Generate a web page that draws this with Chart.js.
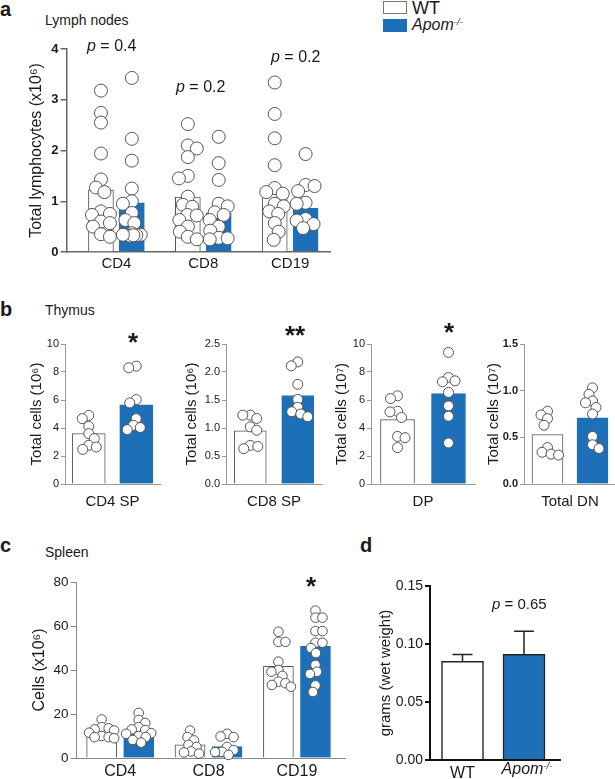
<!DOCTYPE html>
<html>
<head>
<meta charset="utf-8">
<script src="https://cdn.jsdelivr.net/npm/chart.js@4.4.0/dist/chart.umd.min.js"></script>
<style>
  body { margin: 0; background: #fff; font-family: "Liberation Sans", Arial, Helvetica, sans-serif; color: #1a1a1a; }
  #fig { position: relative; width: 615px; height: 779px; overflow: hidden; }
  canvas { position: absolute; }
  .t { position: absolute; line-height: 1; white-space: nowrap; }
  .t sup { font-size: 0.6em; vertical-align: 0; position: relative; top: -0.6em; line-height: 0; }
  .box { position: absolute; width: 22px; height: 11px; border: 1px solid #777; }
</style>
</head>
<body>
<div id="fig"></div>
<script>
// ---- a: lymph nodes, total lymphocytes (x10^6)
const lnCats = ['CD4', 'CD8', 'CD19'];
const lnMeanWT = [1.22, 1.08, 1.24];
const lnMeanKO = [0.97, 0.77, 0.86];
const lnWT = [
  [3.18, 2.74, 2.55, 1.94, 1.43, 1.27, 1.18, 0.8, 0.75, 0.73, 0.6, 0.57, 0.5, 0.35, 0.3],
  [2.52, 2.1, 2.04, 1.87, 1.5, 1.45, 1.09, 0.93, 0.89, 0.73, 0.72, 0.63, 0.5, 0.4, 0.3, 0.25],
  [3.34, 2.72, 2.24, 1.71, 1.26, 1.18, 1.15, 0.95, 0.9, 0.8, 0.75, 0.57, 0.4, 0.24]
];
const lnKO = [
  [3.43, 2.23, 1.8, 1.25, 1.0, 0.95, 0.77, 0.63, 0.57, 0.37, 0.34, 0.33, 0.33, 0.32, 0.33, 0.34],
  [2.27, 1.75, 1.42, 0.95, 0.9, 0.78, 0.73, 0.63, 0.5, 0.42, 0.28, 0.27, 0.25],
  [1.93, 1.32, 1.3, 1.2, 0.97, 0.95, 0.65, 0.62, 0.55, 0.47]
];

// ---- b: thymus
const cd4spWT = [4.9, 4.67, 4.12, 3.6, 3.24, 2.76, 2.64, 2.47];
const cd4spKO = [8.42, 8.3, 6.03, 5.79, 4.67, 4.19, 4.03, 3.88];
const cd8spWT = [1.23, 1.23, 1.17, 1.02, 0.96, 0.69, 0.67, 0.63];
const cd8spKO = [2.18, 2.11, 1.78, 1.51, 1.37, 1.29, 1.25, 1.2];
const dpWT = [6.3, 6.1, 5.2, 5.15, 4.75, 3.4, 3.31, 2.6];
const dpKO = [9.4, 7.61, 7.37, 7.3, 6.54, 5.58, 4.84, 2.93];
const dnWT = [0.78, 0.74, 0.7, 0.63, 0.39, 0.34, 0.32, 0.31];
const dnKO = [1.03, 0.96, 0.89, 0.87, 0.82, 0.75, 0.51, 0.42, 0.38];
const thyMeanWT = [3.6, 0.95, 4.6, 0.53];
const thyMeanKO = [5.65, 1.58, 6.45, 0.71];

// ---- c: spleen, cells (x10^6)
const spCats = ['CD4', 'CD8', 'CD19'];
const spMeanWT = [12.5, 6.0, 41.7];
const spMeanKO = [12.8, 5.2, 50.8];
const spWT = [
  [17.5, 14, 13.5, 13, 12.5, 11.5, 10, 9.5, 9.5, 9],
  [12.5, 9.5, 8, 6, 5, 3, 2.5, 2],
  [57.4, 52.8, 52.8, 43.8, 40, 39.2, 37.3, 34.7, 34, 33.2, 32.4]
];
const spKO = [
  [20.5, 17.3, 15.9, 14, 13, 12.7, 11.3, 11, 10, 9.5, 8.2, 7],
  [11, 9.8, 9.5, 5, 3.6, 2.8, 2.7, 1.4],
  [67, 63.8, 63.8, 57.7, 57.7, 52.4, 52.4, 50, 47.7, 42.3, 39.2, 38.2, 33, 30]
];

// ---- d: grams (wet weight), mean and error
const wCats = ['WT', ''];
const wMean = [0.085, 0.091];
const wErr = [0.006, 0.02];

const BLUE = '#1d70b8';
const FONT = '"Liberation Sans", Arial, Helvetica, sans-serif';
const fig = document.getElementById('fig');

function txt(html, x, base, size, st) {
  const d = document.createElement('div');
  d.className = 't';
  d.innerHTML = html;
  d.style.fontSize = size + 'px';
  d.style.top = (base - 0.8465 * size) + 'px';
  d.style.left = x + 'px';
  if (st && st.center) d.style.transform = 'translateX(-50%)';
  if (st && st.bold) d.style.fontWeight = 'bold';
  fig.appendChild(d);
}

// simple beeswarm: horizontal offsets (px) so circles don't pile up too much
function swarm(vals, ppu, r, lim) {
  const placed = [];
  const off = new Array(vals.length).fill(0);
  const idx = vals.map((v, i) => i).sort((a, b) => vals[b] - vals[a]);
  const need = 2 * r * 0.72;
  idx.forEach((i, n) => {
    const y = vals[i] * ppu;
    const side = n % 2 ? -1 : 1;
    let best = 0, bestD = -1, done = false;
    for (let k = 0; k <= lim && !done; k += 0.5) {
      for (const s of [side, -side]) {
        const x = s * k;
        let d = Infinity;
        placed.forEach(p => { d = Math.min(d, Math.hypot(p[0] - x, p[1] - y)); });
        if (d >= need) { best = x; done = true; break; }
        if (d > bestD) { bestD = d; best = x; }
      }
    }
    placed.push([best, y]);
    off[i] = best;
  });
  return off;
}

function panel(o) {
  const padTop = 12, padRight = 6;
  const yW = o.ax - (o.titleX - 0.6 * o.titleSize);
  const left = o.ax - yW, top = o.top - padTop;
  const cv = document.createElement('canvas');
  cv.width = Math.round(o.right + padRight - left);
  cv.height = Math.round(o.bottom + o.xH - top);
  cv.style.left = left + 'px';
  cv.style.top = top + 'px';
  fig.appendChild(cv);

  const ppu = (o.bottom - o.top) / o.ymax;
  const off = o.barOff / o.dx;
  const tickPos = o.tickPos || o.cats.map((c, i) => i);
  const pts = (groups, sgn) => {
    const out = [];
    groups.forEach((vals, i) => {
      const dxs = swarm(vals, ppu, o.r, o.barW / 2 - o.r * 0.5);
      vals.forEach((v, k) => out.push({ x: i + sgn * off + dxs[k] / o.dx, y: v }));
    });
    return out;
  };
  const dot = data => ({
    type: 'scatter', order: 0, data, clip: false,
    pointRadius: o.r, pointBackgroundColor: '#fff', pointBorderColor: '#555', pointBorderWidth: 1
  });
  const bar = (means, sgn, fill, edge) => ({
    type: 'bar', order: 2, grouped: false, barThickness: o.barW,
    data: means.map((v, i) => ({ x: i + sgn * off, y: v })),
    backgroundColor: fill, borderColor: edge, borderWidth: o.edgeW, borderSkipped: 'start'
  });

  new Chart(cv, {
    type: 'bar',
    data: {
      datasets: [
        dot(pts(o.wt, -1)), dot(pts(o.ko, 1)),
        bar(o.meanWT, -1, '#fff', o.edge), bar(o.meanKO, 1, BLUE, o.koEdge)
      ]
    },
    options: {
      responsive: false, animation: false, devicePixelRatio: 1,
      layout: { padding: { top: padTop, right: padRight, left: 0, bottom: 0 } },
      plugins: { legend: { display: false }, tooltip: { enabled: false } },
      scales: {
        x: {
          type: 'linear', offset: false,
          min: (o.ax - o.cx0) / o.dx, max: (o.right - o.cx0) / o.dx,
          afterFit: s => { s.height = o.xH; },
          afterBuildTicks: s => { s.ticks = tickPos.map(v => ({ value: v })); },
          grid: { display: false, drawTicks: false },
          border: { color: o.axis, width: o.axisW },
          ticks: {
            padding: o.xPad, color: '#1a1a1a', autoSkip: false, maxRotation: 0,
            font: { family: FONT, size: o.xFont },
            callback: (v, i) => o.cats[i]
          }
        },
        y: {
          min: 0, max: o.ymax,
          afterFit: s => { s.width = yW; },
          afterBuildTicks: s => {
            const t = [];
            for (let k = 0; k <= Math.round(o.ymax / o.ystep); k++) t.push({ value: +(k * o.ystep).toFixed(4) });
            s.ticks = t;
          },
          grid: { drawOnChartArea: false, drawTicks: true, tickLength: o.tickLen, color: o.axis, lineWidth: o.axisW },
          border: { color: o.axis, width: o.axisW },
          ticks: {
            padding: 2, color: '#1a1a1a',
            font: { family: FONT, size: o.yFont, weight: o.yBold ? 'bold' : 'normal' },
            callback: v => v.toFixed(o.dec)
          },
          title: {
            display: true, text: o.title, padding: 0, color: '#1a1a1a',
            font: { family: FONT, size: o.titleSize }
          }
        }
      }
    },
    plugins: o.plugins || []
  });
}

const base = {
  r: 5, edge: '#555', koEdge: BLUE, edgeW: 1, axis: '#999', axisW: 1, tickLen: 4,
  xH: 28, xPad: 8, xFont: 15, yFont: 11, yBold: false, titleSize: 15, dx: 50
};

// a
panel(Object.assign({}, base, {
  ax: 67, right: 332, top: 49, bottom: 252, ymax: 4, ystep: 1, dec: 0,
  cats: lnCats, cx0: 117, dx: 87.25, barOff: 15.5, barW: 25, r: 6.5,
  wt: lnWT, ko: lnKO, meanWT: lnMeanWT, meanKO: lnMeanKO,
  axis: '#666', axisW: 1.5, tickLen: 6, yFont: 13, yBold: true,
  titleX: 37, titleSize: 16, title: 'Total lymphocytes (x10\u2076)', xFont: 15, xPad: 3
}));

// b
const thy = [
  { ax: 65, right: 160, cx0: 112.5, barOff: 23.75, barW: 33, ymax: 10, ystep: 2, dec: 0, titleX: 37, cat: 'CD4 SP', exp: '\u2076', wt: cd4spWT, ko: cd4spKO },
  { ax: 226, right: 322, cx0: 274, barOff: 23.75, barW: 32, ymax: 2.5, ystep: 0.5, dec: 1, titleX: 192, cat: 'CD8 SP', exp: '\u2076', wt: cd8spWT, ko: cd8spKO },
  { ax: 371, right: 475, cx0: 423, barOff: 25.5, barW: 34, ymax: 10, ystep: 2, dec: 0, titleX: 342, cat: 'DP', exp: '\u2077', wt: dpWT, ko: dpKO },
  { ax: 524, right: 614, cx0: 570, barOff: 22.5, barW: 31, ymax: 1.5, ystep: 0.5, dec: 1, titleX: 494, cat: 'Total DN', exp: '\u2077', wt: dnWT, ko: dnKO, yBold: true }
];
thy.forEach((t, i) => {
  panel(Object.assign({}, base, t, {
    top: 344, bottom: 483.5, cats: [t.cat], wt: [t.wt], ko: [t.ko],
    meanWT: [thyMeanWT[i]], meanKO: [thyMeanKO[i]],
    title: 'Total cells (10' + t.exp + ')', xPad: 9
  }));
});

// c
panel(Object.assign({}, base, {
  ax: 77, right: 345, top: 582, bottom: 758, ymax: 80, ystep: 20, dec: 0,
  cats: spCats, cx0: 120.5, dx: 88.25, barOff: 18.5, barW: 30, r: 4.8,
  wt: spWT, ko: spKO, meanWT: spMeanWT, meanKO: spMeanKO,
  axis: '#888', tickLen: 6, yFont: 13.5, titleX: 40, titleSize: 16,
  title: 'Cells (x10\u2076)', xFont: 16, xPad: 4
}));

// d, with error bars
const errBars = {
  id: 'errBars',
  afterDatasetsDraw(chart) {
    const ctx = chart.ctx, ys = chart.scales.y;
    ctx.save();
    ctx.strokeStyle = '#222';
    ctx.lineWidth = 1.5;
    [2, 3].forEach((di, k) => {
      const el = chart.getDatasetMeta(di).data[0];
      const y0 = ys.getPixelForValue(wMean[k]);
      const y1 = ys.getPixelForValue(wMean[k] + wErr[k]);
      ctx.beginPath();
      ctx.moveTo(el.x, y0);
      ctx.lineTo(el.x, y1);
      ctx.moveTo(el.x - 10, y1);
      ctx.lineTo(el.x + 10, y1);
      ctx.stroke();
    });
    ctx.restore();
  }
};
panel(Object.assign({}, base, {
  ax: 430, right: 560, top: 586, bottom: 760, ymax: 0.15, ystep: 0.05, dec: 2,
  cats: wCats, tickPos: [-0.5, 0.5], cx0: 493.25, dx: 61.5, barOff: 30.75, barW: 42,
  wt: [[]], ko: [[]], meanWT: [wMean[0]], meanKO: [wMean[1]],
  edge: '#222', koEdge: '#222', edgeW: 1.5, axis: '#111', axisW: 2, tickLen: 5,
  yFont: 14, titleX: 386, titleSize: 15, title: 'grams (wet weight)', xFont: 16, xPad: 4,
  plugins: [errBars]
}));

// panel letters, titles, legend, annotations
txt('a', 0, 16, 20, { bold: true });
txt('Lymph nodes', 45, 25, 14);
txt('b', 0, 316, 20, { bold: true });
txt('Thymus', 45, 315, 14);
txt('c', 0, 552, 20, { bold: true });
txt('Spleen', 45, 557, 14);
txt('d', 360, 552, 20, { bold: true });

const b1 = document.createElement('div');
b1.className = 'box'; b1.style.left = '383px'; b1.style.top = '1px'; b1.style.background = '#fff';
fig.appendChild(b1);
const b2 = document.createElement('div');
b2.className = 'box'; b2.style.left = '383px'; b2.style.top = '19px'; b2.style.background = BLUE; b2.style.borderColor = BLUE;
fig.appendChild(b2);
txt('WT', 412, 14, 18);
txt('<i>Apom</i><sup><i>-/-</i></sup>', 412, 31, 16);

txt('<i>p</i> = 0.4', 87, 52, 16);
txt('<i>p</i> = 0.2', 176, 93, 16);
txt('<i>p</i> = 0.2', 271, 63, 16);

txt('*', 133, 351, 26, { bold: true, center: true });
txt('**', 295, 344, 26, { bold: true, center: true });
txt('*', 449, 341, 26, { bold: true, center: true });
txt('*', 311, 595, 26, { bold: true, center: true });

txt('<i>p</i> = 0.65', 492, 609, 15);
txt('<i>Apom</i><sup><i>-/-</i></sup>', 527, 775, 16, { center: true });
</script>
</body>
</html>
